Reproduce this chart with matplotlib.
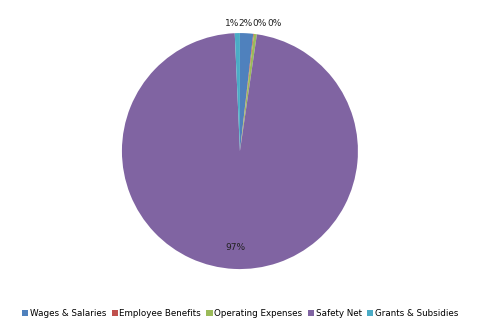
import matplotlib
matplotlib.use('Agg')
import matplotlib.pyplot as plt
import numpy as np

categories = ['Wages & Salaries', 'Employee Benefits', 'Operating Expenses',
              'Safety Net', 'Grants & Subsidies']
shares = [1.8, 0.1, 0.4, 97.0, 0.7]
colors = ['#4F81BD', '#C0504D', '#9BBB59', '#8064A2', '#4BACC6']

fig = plt.figure(figsize=(4.8, 3.33), dpi=100)
ax = fig.add_axes([0.254, 0.192, 0.4917, 0.7087])

wedges, texts, autotexts = ax.pie(shares, colors=colors, startangle=90,
                                  counterclock=False,
                                  autopct=lambda p: '%d%%' % round(p),
                                  pctdistance=1.08,
                                  wedgeprops=dict(linewidth=0))
# small labels crowd at the top; spread them sideways so they don't overlap
nudge = {4: -0.07, 0: 0.05, 1: 0.17, 2: 0.29}
for i, (t, w) in enumerate(zip(autotexts, wedges)):
    t.set_fontsize(6.5)
    t.set_color('#222222')
    if w.theta2 - w.theta1 > 180:
        ang = np.deg2rad((w.theta1 + w.theta2) / 2)
        t.set_position((0.82 * np.cos(ang), 0.82 * np.sin(ang)))
    else:
        t.set_position((nudge[i], 1.08))
ax.set_aspect('equal')
ax.set_xlim(-1, 1)
ax.set_ylim(-1, 1)

fig.legend(wedges, categories, loc='lower center', bbox_to_anchor=(0.5, 0.02),
           ncol=5, frameon=False, fontsize=6.3, handlelength=0.7,
           handleheight=0.7, handletextpad=0.2, columnspacing=0.6)

fig.savefig('out.png', dpi=100)
